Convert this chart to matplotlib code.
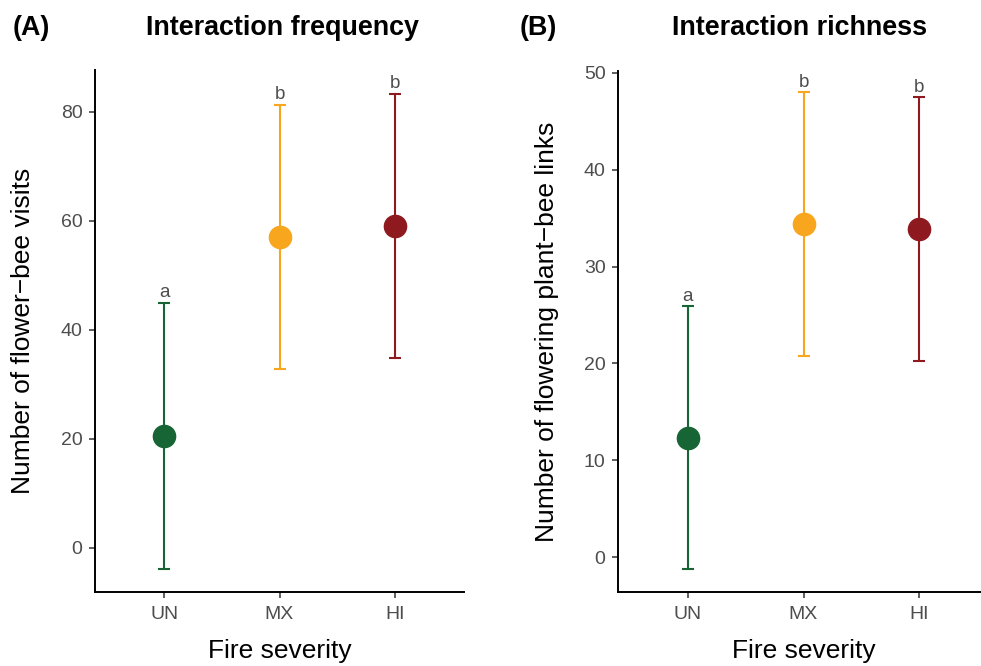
import matplotlib.pyplot as plt

plt.rcParams['font.family'] = ['Liberation Sans', 'DejaVu Sans']

severity = ['UN', 'MX', 'HI']
colors = ['#176534', '#F9A61F', '#8E1A1F']

# panel A: interaction frequency
freq_mean = [20.5, 57.0, 59.0]
freq_low = [-3.8, 32.8, 34.8]
freq_high = [45.0, 81.3, 83.3]
freq_letters = ['a', 'b', 'b']

# panel B: interaction richness
rich_mean = [12.3, 34.4, 33.9]
rich_low = [-1.2, 20.8, 20.3]
rich_high = [25.9, 48.0, 47.5]
rich_letters = ['a', 'b', 'b']

W, H = 981, 666
fig = plt.figure(figsize=(W / 100, H / 100), dpi=100)


def make_axes(left, right, top, bottom):
    return fig.add_axes([left / W, 1 - bottom / H, (right - left) / W, (bottom - top) / H])


def draw_panel(ax, means, lows, highs, letters, ylim, yticks, ylabel, label_x):
    xs = list(range(1, len(severity) + 1))
    for x, m, lo, hi, c, let in zip(xs, means, lows, highs, colors, letters):
        ax.errorbar(x, m, yerr=[[m - lo], [hi - m]], fmt='o', color=c,
                    ecolor=c, elinewidth=1.5, capsize=4.3, capthick=1.5,
                    markersize=16, zorder=3)
        ax.annotate(let, (x, hi), xytext=(0, 4), textcoords='offset points',
                    ha='center', va='baseline', fontsize=13.5, color='#4d4d4d')
    ax.set_xlim(0.4, 3.6)
    ax.set_ylim(*ylim)
    ax.set_xticks(xs)
    ax.set_xticklabels(severity)
    ax.set_yticks(yticks)
    for s in ['top', 'right']:
        ax.spines[s].set_visible(False)
    for s in ['left', 'bottom']:
        ax.spines[s].set_linewidth(1.4)
        ax.spines[s].set_color('black')
    ax.tick_params(length=4, width=1.1, color='#333333', labelcolor='#4d4d4d',
                   labelsize=14)
    ax.tick_params(axis='x', pad=6)
    ax.tick_params(axis='y', pad=5)
    ax.set_ylabel(ylabel, fontsize=19, va='center')
    ax.yaxis.set_label_coords(label_x, 0.5)
    ax.set_xlabel('Fire severity', fontsize=19, va='center')
    ax.xaxis.set_label_coords(0.5, -0.113)


axA = make_axes(95, 464, 70, 592)
draw_panel(axA, freq_mean, freq_low, freq_high, freq_letters,
           (-8.1, 87.7), [0, 20, 40, 60, 80],
           'Number of flower\u2212bee visits', -0.195)

axB = make_axes(618, 989, 71, 592)
draw_panel(axB, rich_mean, rich_low, rich_high, rich_letters,
           (-3.6, 50.2), [0, 10, 20, 30, 40, 50],
           'Number of flowering plant\u2212bee links', -0.192)

fig.text(13 / W, 1 - 28 / H, '(A)', fontsize=19.4, fontweight='bold', va='center', ha='left')
fig.text(283 / W, 1 - 28 / H, 'Interaction frequency', fontsize=19.4, fontweight='bold',
         va='center', ha='center')
fig.text(520 / W, 1 - 28 / H, '(B)', fontsize=19.4, fontweight='bold', va='center', ha='left')
fig.text(800 / W, 1 - 28 / H, 'Interaction richness', fontsize=19.4, fontweight='bold',
         va='center', ha='center')

fig.savefig('out.png', dpi=100)
